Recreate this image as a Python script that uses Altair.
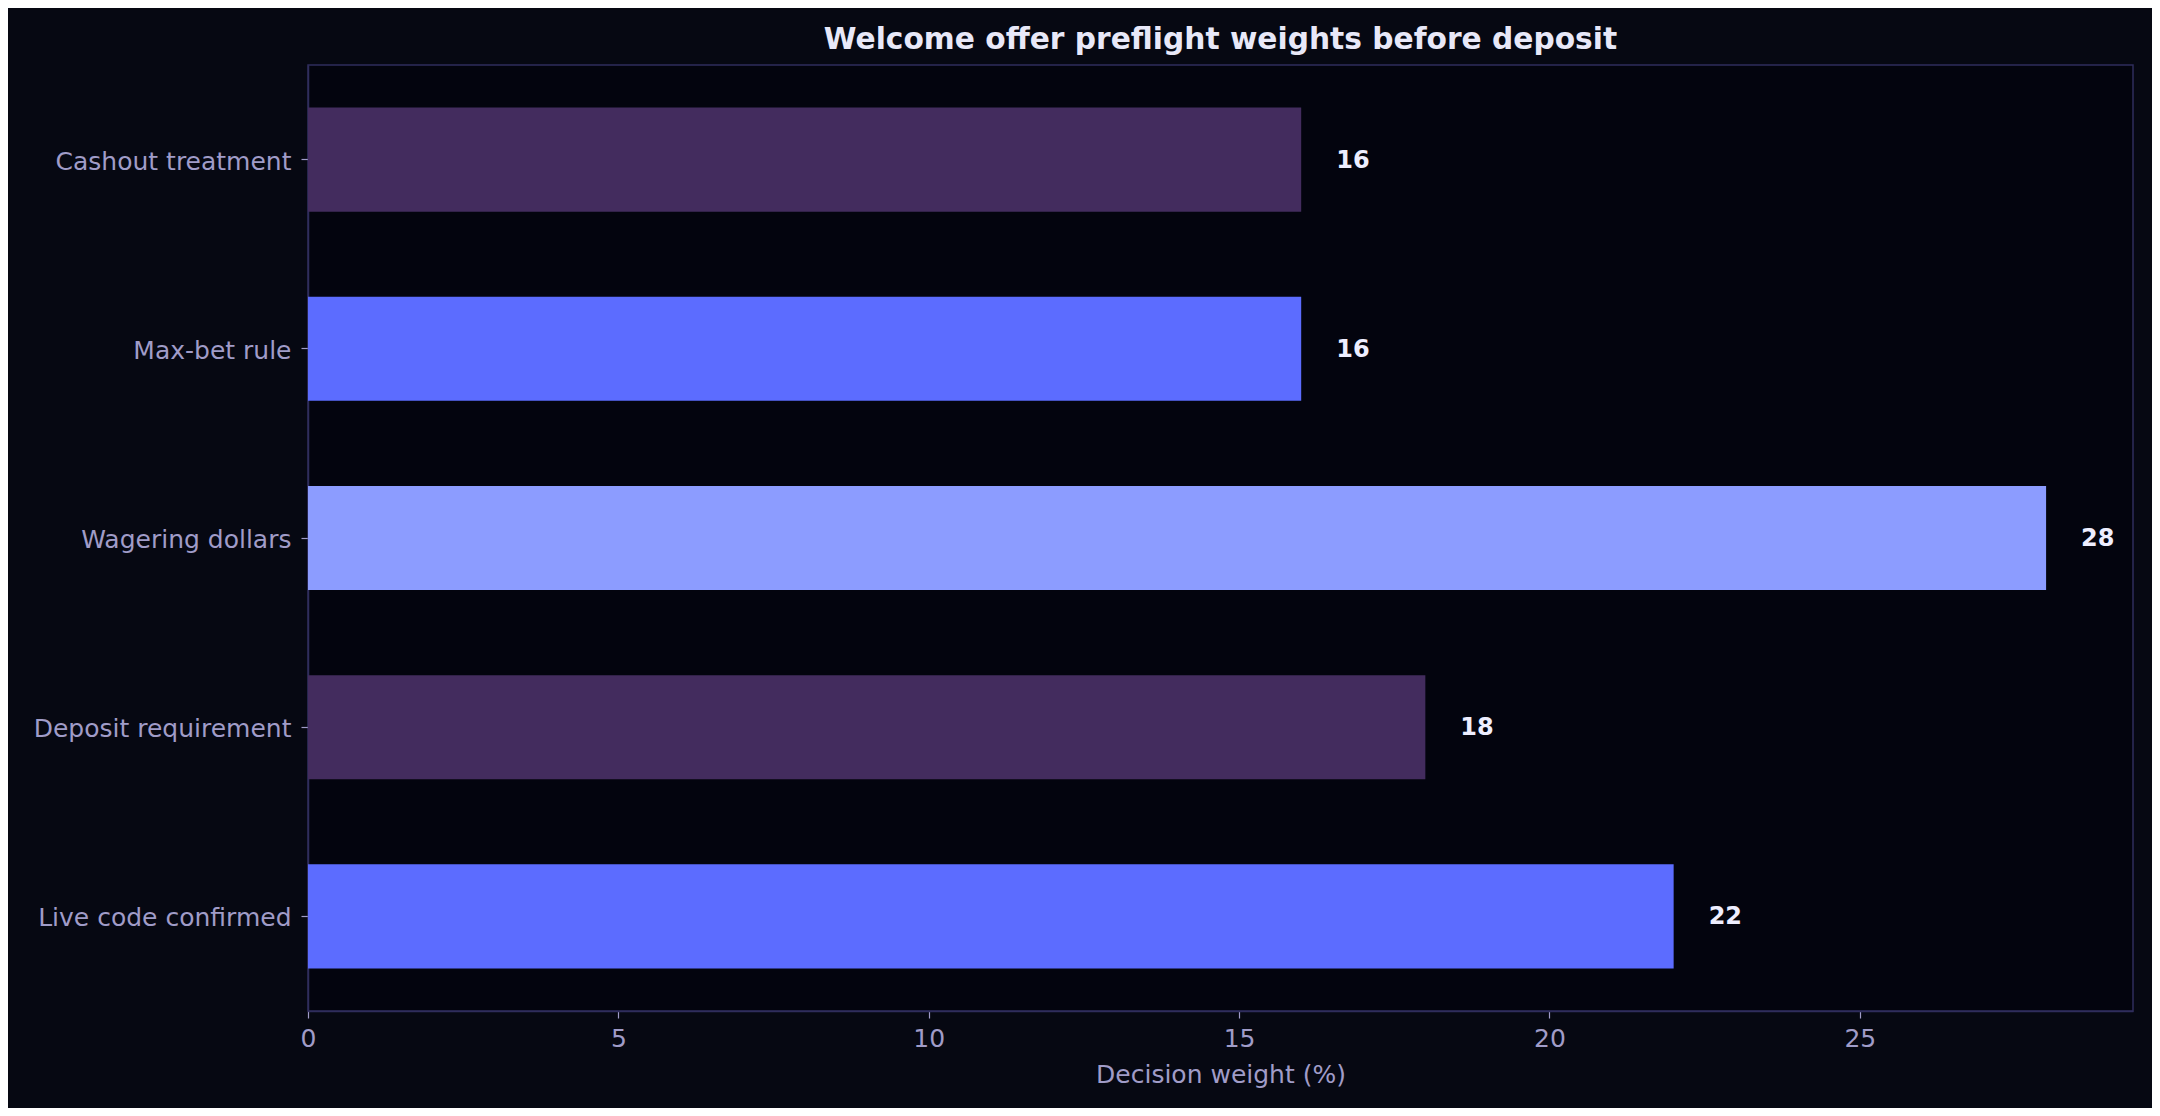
import altair as alt
import pandas as pd

categories = ["Cashout treatment", "Max-bet rule", "Wagering dollars",
              "Deposit requirement", "Live code confirmed"]
weights = [16, 16, 28, 18, 22]
colors = ["#432c5e", "#5c6cff", "#8c9cff", "#432c5e", "#5c6cff"]
x_ticks = [0, 5, 10, 15, 20, 25]

df = pd.DataFrame({"factor": categories, "weight": weights, "color": colors})

FONT = "DejaVu Sans"
LABEL = "#a09cc8"
SPINE = "#2f2d5c"

y_enc = alt.Y("factor:N", sort=categories, title=None,
              scale=alt.Scale(paddingInner=0.45, paddingOuter=0.225),
              axis=alt.Axis(labelLimit=0, labelOffset=2))
x_enc = alt.X("weight:Q", title="Decision weight (%)",
              scale=alt.Scale(domain=[0, 29.4], nice=False, zero=True),
              axis=alt.Axis(values=x_ticks, format="d", labelFlush=False))

bars = alt.Chart(df).mark_bar().encode(
    x=x_enc,
    y=y_enc,
    color=alt.Color("color:N", scale=None),
)

texts = alt.Chart(df).mark_text(
    align="left", baseline="middle", dx=35, dy=1, font=FONT,
    fontSize=24, fontWeight="bold", color="#eeeeff",
).encode(
    x="weight:Q",
    y=alt.Y("factor:N", sort=categories),
    text=alt.Text("weight:Q", format="d"),
)

chart = alt.layer(bars, texts).properties(
    width=1825,
    height=946,
    background="#060812",
    autosize=alt.AutoSizeParams(type="none"),
    padding={"left": 300, "top": 57, "right": 19, "bottom": 97},
    title=alt.TitleParams(
        "Welcome offer preflight weights before deposit",
        anchor="middle", font=FONT, fontSize=29.7, fontWeight="bold",
        color="#e8e8f8", offset=9,
    ),
).configure_view(
    fill="#03040e", stroke=SPINE, strokeWidth=1.5,
).configure_axis(
    labelFont=FONT, labelFontSize=25, labelColor=LABEL,
    titleFont=FONT, titleFontSize=25, titleColor=LABEL, titleFontWeight="normal",
    tickColor=LABEL, tickSize=7, tickWidth=1.2,
    domainColor=SPINE, domainWidth=1.5, grid=False,
).configure_axisY(
    labelPadding=10,
).configure_axisX(
    labelPadding=8, titlePadding=11,
)

chart.save("out.html", embed_options={"renderer": "svg", "actions": False})
